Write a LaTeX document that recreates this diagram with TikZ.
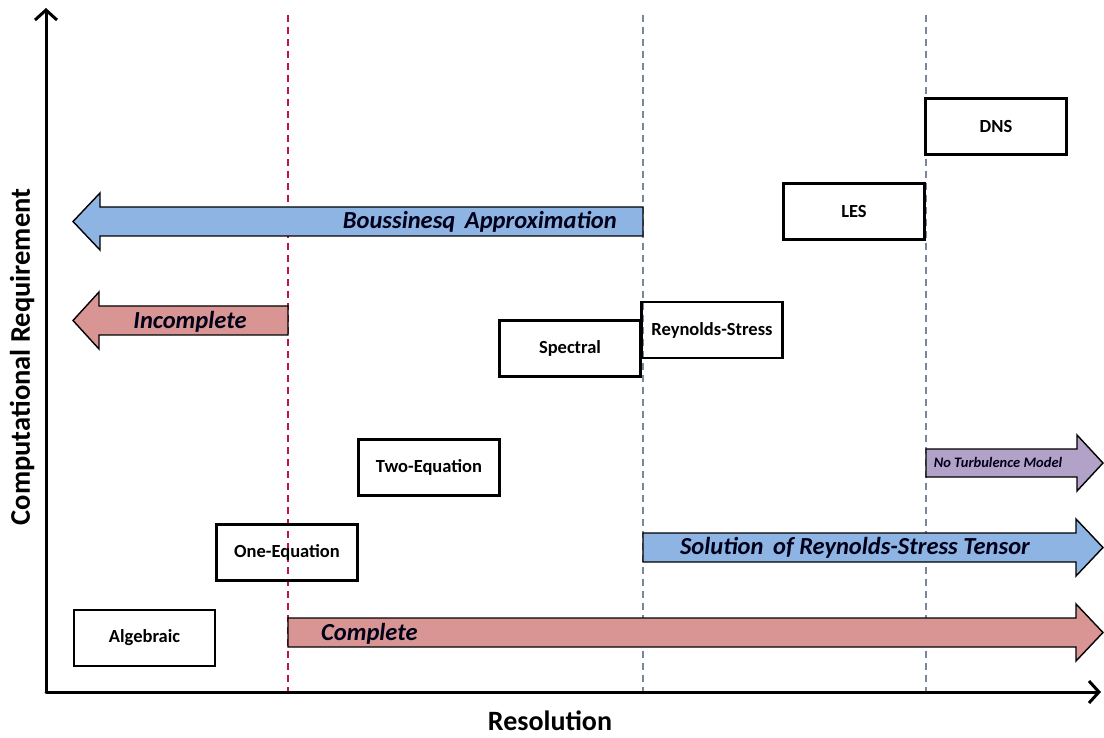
\documentclass[tikz,border=0pt]{standalone}
\usepackage{fontspec}
\setmainfont{Carlito}
\usetikzlibrary{arrows.meta}

\definecolor{arrowblue}{HTML}{8EB4E3}
\definecolor{arrowred}{HTML}{D99594}
\definecolor{arrowpurple}{HTML}{B3A2C7}
\definecolor{divred}{HTML}{C0143C}
\definecolor{divgray}{HTML}{7A8699}

\begin{document}
\begin{tikzpicture}[x=1pt, y=-1pt,
    modelbox/.style = {shape=rectangle, draw, line width=2.5pt,
      minimum width=141pt, minimum height=56pt, inner sep=0pt,
      font=\bfseries\fontsize{18.5}{21}\selectfont},
    bandarrow/.style = {draw=black, line width=1.4pt, line join=miter},
    bandlabel/.style = {font=\bfseries\itshape\fontsize{24.5}{28}\selectfont,
      text=black!90!blue, inner sep=0pt},
    axis/.style = {line width=3pt,
      -{Straight Barb[length=10pt,width=22pt,line width=3pt]}},
    divider/.style = {dashed, line width=1.5pt, dash pattern=on 7pt off 5pt}]
  \useasboundingbox (0,0) rectangle (1104,738);

  % dividers between model families
  \coordinate (redtop) at (288,15);
  \coordinate (redbot) at (288,692);
  \coordinate (midtop) at (643,15);
  \coordinate (midbot) at (643,692);
  \coordinate (dnstop) at (926,15);
  \coordinate (dnsbot) at (926,692);
  \draw[divider, divred] (redtop) -- (redbot);
  \draw[divider, divgray] (midtop) -- (midbot);
  \draw[divider, divgray] (dnstop) -- (dnsbot);

  % band arrows
  \draw[bandarrow, fill=arrowblue] (643,207) -- (100,207) -- (100,193)
    -- (73,221.5) -- (100,250) -- (100,236) -- (643,236) -- cycle;
  \draw[bandarrow, fill=arrowred] (288,306) -- (99,306) -- (99,292)
    -- (73,320.5) -- (99,349) -- (99,335) -- (288,335) -- cycle;
  \draw[bandarrow, fill=arrowpurple] (926,449) -- (1077,449) -- (1077,435)
    -- (1103,463) -- (1077,491) -- (1077,477) -- (926,477) -- cycle;
  \draw[bandarrow, fill=arrowblue] (643,533) -- (1076,533) -- (1076,519)
    -- (1103,547.5) -- (1076,576) -- (1076,562) -- (643,562) -- cycle;
  \draw[bandarrow, fill=arrowred] (288,618) -- (1076,618) -- (1076,604)
    -- (1103,632.5) -- (1076,661) -- (1076,647) -- (288,647) -- cycle;

  \node[bandlabel, anchor=east] (bous) at (617,222) {Boussinesq\, Approximation};
  \node[bandlabel] (incomp) at (190,322) {Incomplete};
  \node[bandlabel, anchor=west] (comp) at (321,634) {Complete};
  \node[bandlabel] (rstt) at (855,548) {Solution\, of Reynolds-Stress Tensor};
  \node[bandlabel, font=\bfseries\itshape\fontsize{14.5}{17}\selectfont]
    (noturb) at (998,462) {No Turbulence Model};

  % models
  \node[modelbox] (alg) at (144.5,638) {Algebraic};
  \node[modelbox] (oneq) at (287,552.5) {One-Equation};
  \node[modelbox] (twoeq) at (429,467.5) {Two-Equation};
  \node[modelbox] (spec) at (570,348.5) {Spectral};
  \node[modelbox] (rs) at (712,330) {Reynolds-Stress};
  \node[modelbox] (les) at (854,211.5) {LES};
  \node[modelbox] (dns) at (996,126.5) {DNS};

  % axes
  \coordinate (origin) at (46,692);
  \coordinate (ytip) at (46,8);
  \coordinate (xtip) at (1101,692);
  \draw[axis, line cap=round] (origin) -- (ytip);
  \draw[axis, line cap=round] (origin) -- (xtip);
  \node[font=\bfseries\fontsize{28}{32}\selectfont] (xlab) at (550,721) {Resolution};
  \node[font=\bfseries\fontsize{28.5}{32}\selectfont, rotate=90] (ylab) at (22,357)
    {Computational Requirement};
\end{tikzpicture}
\end{document}
